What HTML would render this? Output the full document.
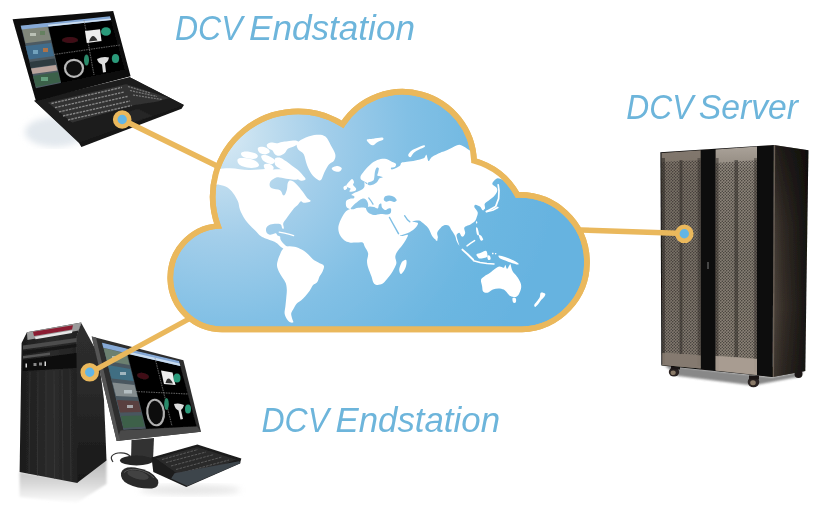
<!DOCTYPE html>
<html><head><meta charset="utf-8"><title>DCV</title>
<style>
html,body{margin:0;padding:0;background:#fff;}
body{width:825px;height:505px;overflow:hidden;font-family:"Liberation Sans",sans-serif;}
svg{display:block}
text{font-family:"Liberation Sans",sans-serif;font-style:italic;fill:#6db5db;}
</style></head><body>
<svg width="825" height="505" viewBox="0 0 825 505">
<defs>
<radialGradient id="cg" gradientUnits="userSpaceOnUse" cx="222" cy="135" r="340">
<stop offset="0" stop-color="#d9eaf5"/><stop offset="0.12" stop-color="#c2deef"/><stop offset="0.3" stop-color="#a3ceea"/><stop offset="0.55" stop-color="#82c0e5"/><stop offset="0.8" stop-color="#6db7e1"/><stop offset="1" stop-color="#66b3e0"/>
</radialGradient>
<clipPath id="cc"><path d="M218 226 A85 85 0 0 1 342.6 124.3 A71.5 71.5 0 0 1 474 160.8 A72 72 0 0 1 517.5 195 A66 66 0 0 1 522 329.4 L222 329.4 A51.78 51.78 0 0 1 218 226 Z"/></clipPath>
</defs>
<filter id="soft" x="0" y="0" width="100%" height="100%" filterUnits="userSpaceOnUse"><feGaussianBlur stdDeviation="0.55"/></filter>
<rect width="825" height="505" fill="#fff"/>
<g filter="url(#soft)">
<defs>
<filter id="b1" x="-10%" y="-10%" width="120%" height="120%"><feGaussianBlur stdDeviation="0.6"/></filter>
<filter id="b3" x="-10%" y="-30%" width="120%" height="160%"><feGaussianBlur stdDeviation="1.2"/></filter>
<filter id="b2" x="-20%" y="-20%" width="140%" height="140%"><feGaussianBlur stdDeviation="3"/></filter>
<linearGradient id="lapbase" x1="0" y1="0" x2="1" y2="1"><stop offset="0" stop-color="#2a2a2a"/><stop offset="1" stop-color="#0e0e0e"/></linearGradient>
<linearGradient id="srvL" x1="0" y1="0" x2="0" y2="1"><stop offset="0" stop-color="#81776d"/><stop offset="0.12" stop-color="#7a7168"/><stop offset="0.5" stop-color="#7a7269"/><stop offset="1" stop-color="#857c72"/></linearGradient>
<linearGradient id="srvR" x1="0" y1="0" x2="0" y2="1"><stop offset="0" stop-color="#aaa299"/><stop offset="0.1" stop-color="#8f877d"/><stop offset="0.5" stop-color="#857d73"/><stop offset="1" stop-color="#8f867b"/></linearGradient>
<linearGradient id="srvSv" x1="0" y1="0" x2="0" y2="1"><stop offset="0" stop-color="#0c0a09" stop-opacity="0.6"/><stop offset="0.35" stop-color="#0c0a09" stop-opacity="0.15"/><stop offset="0.7" stop-color="#0c0a09" stop-opacity="0"/><stop offset="1" stop-color="#0c0a09" stop-opacity="0.25"/></linearGradient>
<linearGradient id="srvS" x1="0" y1="0" x2="1" y2="0"><stop offset="0" stop-color="#4d443c"/><stop offset="0.3" stop-color="#352e28"/><stop offset="0.7" stop-color="#221e1a"/><stop offset="1" stop-color="#141210"/></linearGradient>
<pattern id="mesh" width="3" height="3" patternUnits="userSpaceOnUse"><circle cx="0.75" cy="0.75" r="0.72" fill="#2b2723" opacity="0.8"/><circle cx="2.25" cy="2.25" r="0.72" fill="#2b2723" opacity="0.8"/></pattern>
<linearGradient id="refl" x1="0" y1="0" x2="0" y2="1"><stop offset="0" stop-color="#b5b5b5"/><stop offset="0.5" stop-color="#d4d4d4"/><stop offset="1" stop-color="#fdfdfd"/></linearGradient>
<linearGradient id="twS" x1="0" y1="0" x2="0" y2="1"><stop offset="0" stop-color="#2e2e2e"/><stop offset="0.4" stop-color="#2a2a2a"/><stop offset="1" stop-color="#181818"/></linearGradient>
<linearGradient id="twF" x1="0" y1="0" x2="1" y2="0"><stop offset="0" stop-color="#1c1c1c"/><stop offset="0.5" stop-color="#2b2b2b"/><stop offset="1" stop-color="#222"/></linearGradient>
</defs>

<!-- LAPTOP -->
<g id="laptop" filter="url(#b1)">
<ellipse cx="55" cy="132" rx="30" ry="15" fill="#d3dce4" opacity="0.65" filter="url(#b2)"/>
<polygon points="34.2,100.8 129.8,77.3 183.9,104.9 181.6,108.8 81.4,147 79,143" fill="#141414"/>
<polygon points="34.2,100.8 129.8,77.3 183.9,104.9 79.5,142.5" fill="#1f1f1f"/>
<polygon points="48,102.6 126.3,84.2 168.9,98 157.4,101.5 134.4,104.9 72.2,122.6" fill="#333"/>
<g stroke="#9a9a9a" stroke-width="1.3" stroke-dasharray="2.4 1" opacity="0.85">
<line x1="51.5" y1="103.5" x2="122" y2="87.3"/>
<line x1="55" y1="107.6" x2="124" y2="92"/>
<line x1="59" y1="111.8" x2="127.5" y2="96.5"/>
<line x1="63" y1="116" x2="130" y2="101"/>
<line x1="68" y1="120" x2="131.5" y2="105.5"/>
</g>
<g stroke="#8a8a8a" stroke-width="1.2" stroke-dasharray="2 1" opacity="0.8">
<line x1="128" y1="86.5" x2="150" y2="93"/>
<line x1="130" y1="90.5" x2="157" y2="96.5"/>
<line x1="133" y1="95" x2="162" y2="99.5"/>
</g>
<polygon points="115,115.5 138,109 152,116 128,123.5" fill="#262626"/>
<polygon points="12.6,19.2 113.2,10.9 130.6,76.2 36,101.2" fill="#0d0d0d"/>
<polygon points="20.7,25.7 110,16.3 125.2,69.7 35.9,88.2" fill="#060606"/>
<!-- left panel -->
<polygon points="20.7,25.7 47.5,22.9 61,83 35.9,88.2" fill="#4d5a62"/>
<polygon points="22,29 47.5,26.2 51,40 25.5,43.2" fill="#80867a"/>
<polygon points="25.5,46 51,43 54,56 29,59.5" fill="#3f6c8c"/>
<polygon points="29.5,62 54.5,58.5 56,64.5 31,68" fill="#2e3a40"/>
<polygon points="31,68.5 56,65 57.5,70.5 32.5,74" fill="#b9a39c"/>
<polygon points="33,76 58,72 60.5,82 35.9,87" fill="#3a604a"/>
<g opacity="0.8"><rect x="30" y="33" width="6" height="3" fill="#c9cfc4"/><rect x="40" y="31" width="5" height="4" fill="#5f7f5a"/><rect x="33" y="50" width="5" height="4" fill="#7fb0c8"/><rect x="43" y="48" width="5" height="4" fill="#c9743a"/><rect x="41" y="77" width="7" height="4" fill="#6fae88"/></g>
<!-- title bar -->
<polygon points="20.7,25.7 110,16.3 111,20 21.7,29.4" fill="#86a9d6"/><polygon points="48,24.8 110.6,18.4 111,20 48.5,26.6" fill="#cfe0f0"/>
<!-- quadrant lines -->
<g stroke="#888" stroke-width="0.7" stroke-dasharray="1.5 1">
<line x1="84" y1="20" x2="94" y2="75"/>
<line x1="54" y1="54.5" x2="120" y2="45"/>
</g>
<ellipse cx="74" cy="68.3" rx="9" ry="8.5" fill="#111" stroke="#b8b8b8" stroke-width="2.2"/>
<polygon points="85,31 100,29.3 101.5,41 86.8,43" fill="#eee"/>
<path d="M89 41.5 Q92.5 31 97.5 40.5Z" fill="#333"/>
<ellipse cx="106" cy="31.5" rx="5" ry="4.3" fill="#2c9a7a"/>
<ellipse cx="86.5" cy="60" rx="2.5" ry="5.5" fill="#2c8a6a"/>
<ellipse cx="115.5" cy="58.5" rx="3.6" ry="4.5" fill="#2c9a7a"/>
<path d="M97 59 Q103 56 109 57.5 Q108 62 105 63.5 L106 72 L103 72.5 L102 64.5 Q98 63 97 59Z" fill="#ddd"/>
<ellipse cx="70" cy="40" rx="8" ry="3" fill="#5a1520" opacity="0.7"/>
</g>

<!-- SERVER -->
<g id="server" filter="url(#b1)">
<polygon points="664,365 772,377 804,371 798,377 753,385.5 678,376" fill="#7c7c7c" opacity="0.9" filter="url(#b3)"/>
<!-- under shadow -->
<polygon points="663,364 772.6,377 805,371 720,360" fill="#4a443e"/>
<!-- wheels -->
<ellipse cx="674" cy="372" rx="5.2" ry="4.6" fill="#2a2420"/><ellipse cx="673.2" cy="372.8" rx="2.6" ry="2.3" fill="#8a7a68"/><rect x="671" y="366" width="9" height="3.5" fill="#1d1916"/>
<ellipse cx="753.5" cy="382" rx="5.8" ry="5.2" fill="#2a2420"/><ellipse cx="753" cy="382.8" rx="2.8" ry="2.5" fill="#8a7a68"/><rect x="749" y="375.5" width="10" height="4" fill="#1d1916"/>
<ellipse cx="798.5" cy="374" rx="4" ry="4" fill="#1a1613"/>
<!-- side -->
<polygon points="773.8,145 808.4,150.3 805.3,371 772.6,377" fill="url(#srvS)"/>
<polygon points="773.8,145 808.4,150.3 805.3,371 772.6,377" fill="url(#srvSv)"/>
<polygon points="773.8,145 775.2,145.2 774,377 772.6,377" fill="#6a6057"/>
<!-- front -->
<polygon points="660.4,152.3 773.8,145 772.6,377 661.4,365.5" fill="#0b0a09"/>
<!-- left door -->
<polygon points="661.5,153 700.7,150.2 700.7,368.5 662.3,365" fill="url(#srvL)"/>
<polygon points="661.5,162 700.7,160 700.7,355 662.3,352.5" fill="url(#mesh)"/>
<!-- right door -->
<polygon points="715.6,149.5 757,146.5 757,375 715.6,370.5" fill="url(#srvR)"/>
<polygon points="715.6,163 757,160 757,358.5 715.6,355.5" fill="url(#mesh)"/>
<!-- vertical darker bands in doors -->
<rect x="679.5" y="160" width="3" height="194" fill="#2a2622" opacity="0.5"/>
<rect x="734.5" y="160" width="3.5" height="197" fill="#2a2622" opacity="0.5"/>
<rect x="661.5" y="158" width="3.5" height="206" fill="#2a2622" opacity="0.55"/>
<rect x="697.5" y="158" width="3.2" height="208" fill="#2a2622" opacity="0.4"/>
<rect x="715.6" y="158" width="3" height="212" fill="#2a2622" opacity="0.45"/>
<rect x="754" y="158" width="3" height="214" fill="#2a2622" opacity="0.4"/>
<!-- bottom reflection of doors -->
<polygon points="662.3,353 700.7,355.5 700.7,368.5 662.3,365" fill="#857a6f" opacity="0.9"/>
<polygon points="715.6,356 757,359 757,375 715.6,370.5" fill="#ab9f93" opacity="0.9"/>
<rect x="707" y="262" width="2" height="7" fill="#444"/>
</g>

<!-- DESKTOP -->
<g id="desktop" filter="url(#b1)">
<polygon points="19.6,472 76.5,481 106.5,459 106.5,484 76.5,503 19.6,497" fill="url(#refl)" filter="url(#b3)"/>
<ellipse cx="190" cy="490" rx="50" ry="5" fill="#d5d5d5" opacity="0.6" filter="url(#b2)"/>
<!-- tower side -->
<polygon points="81.3,323 97,352 101.5,380 104,400 105.7,440 106.5,460.5 77,483 76.9,335" fill="url(#twS)"/>
<!-- tower front -->
<polygon points="21.6,343 26.9,332.3 81.3,322.5 76.9,336 77.3,483 19.6,472" fill="url(#twF)"/>
<!-- handle -->
<polygon points="26.9,332.3 81.3,322.5 78.5,330.5 27.5,340" fill="#9b9b9b"/>
<polygon points="33,331.8 73,325.2 72,329.5 34,336" fill="#8b1f30"/>
<polygon points="35,336.8 72.5,330.3 72,333 35.5,339.3" fill="#e6e6e6"/>
<!-- drive bays -->
<polygon points="23,345.5 76.5,338 76.5,342 23,349.5" fill="#4d4d4d"/>
<polygon points="23,351 76.5,344 76.5,347 23,354.5" fill="#161616"/>
<polygon points="23,356 50,352.5 50,355 23,358.5" fill="#555"/>
<polygon points="22.5,360 76.5,353 76.5,368 22.5,371" fill="#0c0c0c"/>
<g fill="#ddd"><rect x="25.5" y="363.5" width="1.5" height="4"/><rect x="33.5" y="363" width="3" height="3" opacity="0.6"/><rect x="39" y="362.5" width="3" height="3" opacity="0.6"/><rect x="44.5" y="361.5" width="1.5" height="4.5"/></g>
<!-- mesh lines -->
<g stroke="#3a3a3a" stroke-width="0.8" opacity="0.9">
<line x1="30" y1="372" x2="29" y2="474"/><line x1="38" y1="371.5" x2="37.5" y2="475.5"/><line x1="46" y1="371" x2="46" y2="477"/><line x1="54" y1="370.5" x2="54.5" y2="478.5"/><line x1="62" y1="370" x2="63" y2="480"/><line x1="70" y1="369.5" x2="71" y2="481"/>
</g>
<!-- monitor stand -->
<polygon points="131.5,440 154,438 153,460 131,460" fill="#333"/>
<ellipse cx="136.5" cy="460.5" rx="16.5" ry="5" fill="#262626"/>
<!-- monitor -->
<polygon points="91.7,336.5 183.4,360.3 201,431.8 116.7,441" fill="#2e2e2e"/><polygon points="120.5,430.5 197,426.5 201,431.8 116.7,441" fill="#4a4a4a"/>
<polygon points="91.7,336.5 96,337.6 120,440.6 116.7,441" fill="#555"/>
<polygon points="102,342.7 179,361 196.6,426.3 123.3,430" fill="#050505"/>
<!-- monitor content -->
<polygon points="102,342.7 126,348.4 146,428.8 123.3,430" fill="#49565e"/>
<polygon points="103.5,348 126.5,353.5 129.5,365 107,361" fill="#6c8070"/>
<polygon points="108,365 130.5,369 133.5,381 111.5,378.5" fill="#3f6e82"/>
<polygon points="112.5,382.5 134.5,385 137.5,397 116,396" fill="#848c8e"/>
<polygon points="117,400 138.5,401 141,412 120,412.5" fill="#5a3f3f"/>
<polygon points="121,416 142,415.5 144.5,426.5 123.3,428" fill="#3d6048"/>
<g fill="#c9d4d8" opacity="0.7"><rect x="112" y="356" width="5" height="3"/><rect x="120" y="372" width="6" height="3"/><rect x="124" y="390" width="8" height="3.5"/><rect x="127" y="405" width="6" height="3"/></g>
<polygon points="102,342.7 179,361 180.3,366 103.3,347.7" fill="#86a9d6"/><polygon points="125,350.7 179.6,363.5 180.3,366 126,353.5" fill="#c9dcef"/>
<g stroke="#888" stroke-width="0.7" stroke-dasharray="1.5 1">
<line x1="155" y1="358" x2="172" y2="426"/>
<line x1="136" y1="391.5" x2="188" y2="394"/>
</g>
<ellipse cx="155.6" cy="412.5" rx="8.3" ry="12.8" fill="#0b0b0b" stroke="#b0b0b0" stroke-width="2.2" transform="rotate(-6 155.6 412.5)"/>
<polygon points="161,370.5 172.5,372.5 175.5,385 164,384" fill="#eee"/>
<path d="M165.5 383 Q168 374 173 383.5Z" fill="#333"/>
<ellipse cx="177" cy="378" rx="3.5" ry="4.5" fill="#2c9a7a"/>
<ellipse cx="166.5" cy="404" rx="2.3" ry="6" fill="#2c8a6a"/>
<ellipse cx="188" cy="409" rx="3" ry="4.5" fill="#2c9a7a"/>
<path d="M174 404 Q179 402.5 184 405 Q183 409 181 410 L183 419 L180.5 419.5 L178.5 410.5 Q175 409 174 404Z" fill="#ddd"/>
<ellipse cx="143" cy="376" rx="6" ry="3" fill="#5a1520" opacity="0.7" transform="rotate(12 143 376)"/>
<!-- keyboard -->
<polygon points="151.5,457.5 197.3,444.6 241.3,458.6 240,463.5 186.3,487 153.3,472" fill="#1b1b1b"/>
<polygon points="156,458.5 197,447 236,459.5 187,480.5" fill="#2b2b2b"/>
<g stroke="#6a6a6a" stroke-width="1" stroke-dasharray="2.6 1.1" opacity="0.75">
<line x1="162" y1="459.5" x2="198" y2="449.5"/><line x1="166" y1="462.5" x2="206" y2="452"/><line x1="171" y1="466" x2="214" y2="454.5"/><line x1="176" y1="469.5" x2="222" y2="457"/><line x1="181" y1="473" x2="229" y2="460"/><line x1="186" y1="476.5" x2="225" y2="465"/>
</g>
<polygon points="174.5,473.3 239,461.2 240.7,463.1 187.2,486 171.1,478.6" fill="#3d444b"/>
<!-- mouse -->
<path d="M113 462 Q108 455 118 453 Q127 452 131 457" fill="none" stroke="#333" stroke-width="1.2"/>
<path d="M121 473 Q123 466 135 467.5 Q152 470 158 480 Q160 487 152 488.5 Q138 489 128 484 Q120 480 121 473Z" fill="#2a2a2a"/><ellipse cx="138" cy="475" rx="11" ry="4" fill="#555" opacity="0.6" transform="rotate(14 138 475)"/>
<path d="M124 472.5 Q128 468.5 137 469.5 Q148 471.5 154 478" fill="none" stroke="#555" stroke-width="1"/>
</g>

<g stroke="#eab85c" stroke-width="5.4" stroke-linecap="round" fill="none">
<line x1="122" y1="119.5" x2="218" y2="166.5"/>
<line x1="581" y1="230" x2="684.5" y2="233.5"/>
<line x1="187" y1="320" x2="89.5" y2="373"/>
</g>
<path d="M218 226 A85 85 0 0 1 342.6 124.3 A71.5 71.5 0 0 1 474 160.8 A72 72 0 0 1 517.5 195 A66 66 0 0 1 522 329.4 L222 329.4 A51.78 51.78 0 0 1 218 226 Z" fill="url(#cg)" stroke="#eab85c" stroke-width="5.7" stroke-linejoin="miter"/>
<mask id="lm" maskUnits="userSpaceOnUse" x="150" y="70" width="460" height="280"><g fill="#fff"><path d="M212 169 C213.1 166.5 215.2 169.0 218.3 168.9 C221.4 168.8 225.7 168.0 230.8 168.2 C235.9 168.4 243.0 169.8 248.8 169.9 C254.6 170.1 261.5 169.2 265.4 169.1 C269.3 169.0 270.4 169.0 272.3 169.6 C274.2 170.2 274.9 171.5 276.5 172.4 C278.1 173.3 281.9 174.4 282 175.2 C282.1 176.0 278.8 176.1 277 177 C275.2 177.9 272.2 179.4 271 180.7 C269.8 182.0 269.5 183.7 269.6 184.9 C269.7 186.2 270.1 187.3 271.8 188.2 C273.6 189.1 278.2 189.0 280.1 190.2 C282.0 191.3 282.1 194.4 282.9 195.1 C283.7 195.8 284.3 195.4 285 194.4 C285.7 193.4 286.6 190.8 287 188.9 C287.4 187.1 287.2 184.7 287.7 183.3 C288.2 181.9 288.8 180.7 289.8 180.5 C290.9 180.3 292.6 181.0 294 181.9 C295.4 182.8 296.5 184.2 298.1 186.1 C299.7 187.9 302.2 191.0 303.7 193 C305.2 195.0 306.0 196.6 307.1 197.9 C308.2 199.2 310.2 199.9 310.6 200.6 C311.0 201.3 310.4 201.7 309.2 202 C308.0 202.3 305.1 202.8 303.7 202.7 C302.3 202.6 301.8 201.0 300.9 201.3 C300.0 201.6 299.2 203.2 298.1 204.4 C297.0 205.6 295.4 206.7 294 208.3 C292.6 209.9 291.2 211.9 289.8 213.8 C288.4 215.7 286.8 218.0 285.7 219.6 C284.6 221.2 283.5 222.1 283.2 223.5 C282.9 224.9 284.1 227.5 283.9 228.3 C283.7 229.1 282.7 228.9 282.2 228.3 C281.7 227.7 281.8 225.3 280.8 224.6 C279.8 223.8 277.7 223.8 276 223.8 C274.3 223.8 272.0 224.0 270.4 224.6 C268.8 225.2 267.2 226.4 266.5 227.6 C265.8 228.8 265.9 230.6 266.3 231.8 C266.7 233.0 267.9 234.2 269 234.6 C270.1 234.9 272.0 234.1 273.2 233.9 C274.4 233.7 275.3 232.9 276 233.2 C276.7 233.5 276.8 234.9 277.5 235.5 C278.2 236.1 279.5 235.8 280 236.5 C280.5 237.2 280.1 238.5 280.5 239.5 C280.9 240.5 281.7 241.5 282.5 242.5 C283.3 243.5 284.6 244.7 285.5 245.5 C286.4 246.3 287.9 246.8 288 247.5 C288.1 248.2 287.3 250.2 286 250 C284.7 249.8 281.8 247.6 280.3 246.5 C278.8 245.4 278.3 244.2 277 243.3 C275.7 242.4 274.5 241.8 272.7 241 C270.9 240.2 268.3 239.5 266.3 238.7 C264.3 237.9 262.6 237.4 260.7 236 C258.8 234.6 257.2 232.4 255.2 230.4 C253.2 228.4 250.8 226.3 248.9 224.2 C247.1 222.1 245.6 220.3 244.1 217.9 C242.6 215.5 240.9 212.4 239.9 209.6 C238.9 206.8 239.1 204.1 237.9 201.3 C236.8 198.5 234.7 195.3 233 193 C231.3 190.7 229.8 188.9 227.5 187.5 C225.2 186.1 221.8 185.3 219.2 184.7 C216.6 184.1 213.2 186.6 212 184 C210.8 181.4 210.9 171.5 212 169Z"/><path d="M267.0 170.5 C268.6 169.3 277.6 169.2 281.9 169.2 C286.2 169.2 289.4 169.4 292.7 170.3 C295.9 171.2 300.7 173.1 301.4 174.6 C302.1 176.1 299.3 178.9 297.1 179.6 C294.9 180.3 291.3 179.3 288.4 179.0 C285.5 178.7 282.4 177.9 279.7 177.5 C277.0 177.1 274.2 177.8 272.1 176.6 C270.0 175.4 265.4 171.7 267.0 170.5Z"/><path d="M297.1 143.1 C298.4 141.1 302.5 139.0 305.8 137.6 C309.1 136.2 313.4 135.0 316.7 134.8 C320.0 134.6 323.0 134.8 325.4 136.5 C327.8 138.2 329.2 142.3 330.8 145.2 C332.4 148.1 334.6 151.4 335.2 154.0 C335.8 156.6 335.2 158.7 334.1 160.5 C333.0 162.3 330.3 162.8 328.7 164.8 C327.1 166.8 325.6 169.9 324.3 172.5 C323.0 175.1 322.3 179.0 321.0 180.1 C319.7 181.2 318.3 180.1 316.7 179.0 C315.1 177.9 312.8 175.9 311.2 173.5 C309.6 171.1 308.2 168.1 306.9 164.8 C305.6 161.6 305.1 156.5 303.6 154.0 C302.2 151.5 299.3 151.4 298.2 149.6 C297.1 147.8 295.8 145.1 297.1 143.1Z"/><path d="M331.9 168.1 C332.4 167.3 335.8 165.9 337.4 165.9 C339.0 165.9 341.3 167.2 341.7 168.1 C342.1 169.0 340.8 170.9 339.5 171.4 C338.2 171.9 335.4 171.5 334.1 170.9 C332.8 170.3 331.3 168.9 331.9 168.1Z"/><path d="M237.7 159.2 C238.3 158.3 239.6 157.9 241.9 157.9 C244.2 157.9 248.9 158.4 251.6 159.2 C254.2 160.0 256.7 161.5 257.8 162.7 C258.9 163.9 259.5 165.3 258.5 166.2 C257.5 167.1 254.2 167.9 251.6 168.0 C249.0 168.1 245.4 167.4 243.2 166.6 C241.0 165.8 239.3 164.6 238.4 163.4 C237.5 162.2 237.1 160.1 237.7 159.2Z"/><path d="M241.2 153.0 C241.8 152.2 243.8 151.6 246.0 151.6 C248.2 151.6 252.3 152.3 254.3 153.0 C256.3 153.7 257.6 154.9 257.8 155.8 C258.0 156.7 257.2 158.1 255.7 158.6 C254.2 159.1 251.0 158.9 248.8 158.6 C246.6 158.2 243.9 157.4 242.6 156.5 C241.3 155.6 240.6 153.8 241.2 153.0Z"/><path d="M257.8 148.2 C258.2 147.2 260.9 146.7 262.6 146.8 C264.3 146.9 267.0 148.0 268.2 148.9 C269.4 149.8 270.1 151.4 269.6 152.3 C269.1 153.2 267.0 154.3 265.4 154.4 C263.8 154.5 261.2 154.0 259.9 153.0 C258.6 152.0 257.4 149.2 257.8 148.2Z"/><path d="M266.8 144.7 C267.3 143.8 269.4 142.8 271.0 142.6 C272.6 142.4 274.7 143.4 276.5 143.3 C278.3 143.2 280.1 142.2 282.0 141.9 C283.9 141.6 285.3 141.4 287.6 141.2 C289.9 141.0 294.0 140.2 295.9 140.5 C297.8 140.8 299.2 142.2 298.7 143.3 C298.2 144.4 295.0 145.9 293.1 146.8 C291.2 147.7 289.0 147.9 287.6 148.9 C286.2 149.9 286.2 151.8 284.8 153.0 C283.4 154.2 280.9 155.6 279.3 155.8 C277.7 156.0 276.3 155.3 275.1 154.4 C273.9 153.5 273.5 151.2 272.3 150.2 C271.1 149.2 269.1 149.1 268.2 148.2 C267.3 147.3 266.3 145.6 266.8 144.7Z"/><path d="M261.3 155.8 C261.8 155.0 263.8 154.9 265.4 155.1 C267.0 155.3 269.4 156.3 271.0 157.2 C272.6 158.1 274.9 159.4 275.1 160.6 C275.3 161.8 273.7 163.8 272.3 164.1 C270.9 164.4 268.4 163.4 266.8 162.7 C265.2 162.0 263.5 161.1 262.6 159.9 C261.7 158.8 260.8 156.6 261.3 155.8Z"/><path d="M275.1 158.6 C276.0 157.4 278.9 157.4 280.7 157.9 C282.5 158.4 284.4 160.0 286.2 161.3 C288.0 162.6 289.8 164.1 291.7 165.5 C293.6 166.9 295.4 168.0 297.3 169.6 C299.2 171.2 301.4 173.6 302.8 175.2 C304.2 176.8 305.8 178.4 305.6 179.3 C305.4 180.2 303.0 180.9 301.4 180.7 C299.8 180.5 297.7 178.8 295.9 177.9 C294.1 177.0 292.2 176.3 290.4 175.2 C288.5 174.0 286.6 172.2 284.8 171.0 C283.0 169.8 280.9 169.2 279.3 168.2 C277.7 167.2 275.8 166.4 275.1 164.8 C274.4 163.2 274.2 159.8 275.1 158.6Z"/><path d="M264.0 164.8 C264.7 163.9 268.0 163.6 269.6 164.1 C271.2 164.6 273.5 166.4 273.7 167.6 C273.9 168.8 272.4 170.7 271.0 171.0 C269.6 171.3 266.6 170.6 265.4 169.6 C264.2 168.6 263.3 165.7 264.0 164.8Z"/><path d="M281.8 250.5 C282.5 249.4 283.4 248.1 284.6 247.4 C285.8 246.7 287.4 246.4 289.0 246.3 C290.6 246.2 292.6 246.4 294.4 246.8 C296.2 247.2 298.3 248.0 299.9 248.7 C301.5 249.4 302.8 250.1 304.2 251.1 C305.6 252.1 307.2 253.5 308.6 254.8 C310.1 256.2 311.3 257.9 312.9 259.2 C314.5 260.5 316.6 261.4 318.4 262.5 C320.2 263.6 323.1 264.2 323.8 265.7 C324.5 267.1 323.4 269.4 322.7 271.2 C322.0 273.0 320.4 274.8 319.5 276.6 C318.6 278.4 318.4 280.7 317.3 282.1 C316.2 283.6 314.2 283.9 312.9 285.3 C311.6 286.8 311.0 289.0 309.7 290.8 C308.4 292.6 306.8 294.6 305.3 296.2 C303.9 297.8 302.4 299.3 301.0 300.6 C299.6 301.9 297.9 302.4 296.6 303.8 C295.3 305.2 294.2 307.7 293.3 309.3 C292.4 310.9 291.4 312.0 291.2 313.6 C291.0 315.2 291.9 317.7 292.3 319.1 C292.7 320.6 293.7 321.8 293.3 322.3 C292.9 322.8 291.2 322.8 290.1 322.3 C289.0 321.8 287.7 320.6 286.8 319.1 C285.9 317.7 284.9 315.6 284.6 313.6 C284.4 311.6 285.0 309.6 285.3 307.1 C285.6 304.6 285.9 301.3 286.2 298.4 C286.4 295.5 286.9 292.2 286.8 289.7 C286.7 287.1 286.4 285.1 285.7 283.1 C285.0 281.1 283.6 279.5 282.5 277.7 C281.4 275.9 280.1 274.3 279.2 272.3 C278.3 270.3 277.2 267.9 277.0 265.7 C276.8 263.5 277.6 261.2 278.1 259.2 C278.7 257.2 279.7 255.1 280.3 253.7 C280.9 252.2 281.1 251.6 281.8 250.5Z"/><path d="M346.3 210.9 C347.8 209.8 349.8 209.1 351.8 208.7 C353.8 208.3 356.0 208.5 358.3 208.7 C360.6 208.9 363.9 209.1 365.9 209.8 C367.9 210.5 368.7 212.4 370.3 213.1 C371.9 213.8 373.5 214.2 375.7 214.2 C377.9 214.2 380.9 213.1 383.3 213.1 C385.7 213.1 388.5 213.3 389.9 214.2 C391.2 215.1 390.6 216.5 391.4 218.5 C392.2 220.5 393.4 223.6 394.7 226.1 C396.0 228.6 397.9 232.0 399.0 233.7 C400.1 235.4 399.8 235.9 401.2 236.1 C402.6 236.3 406.9 234.3 407.7 234.8 C408.5 235.3 407.2 237.4 406.2 239.2 C405.2 241.0 403.3 243.7 401.9 245.7 C400.4 247.7 398.6 249.4 397.5 251.2 C396.4 253.0 395.5 254.6 395.3 256.6 C395.1 258.6 396.6 261.1 396.4 263.1 C396.2 265.1 395.1 266.8 394.2 268.6 C393.3 270.4 392.3 272.2 391.0 274.0 C389.7 275.8 388.1 277.9 386.6 279.5 C385.2 281.1 383.9 282.9 382.3 283.8 C380.7 284.7 378.3 285.1 376.8 284.9 C375.3 284.7 374.4 284.1 373.5 282.7 C372.6 281.2 372.3 278.7 371.4 276.2 C370.5 273.7 368.8 270.0 368.1 267.5 C367.4 265.0 367.0 263.4 367.0 261.0 C367.0 258.6 368.5 255.7 368.1 253.3 C367.7 250.9 365.7 248.6 364.8 246.8 C363.9 245.0 364.1 243.2 362.7 242.5 C361.2 241.8 358.3 242.5 356.1 242.5 C353.9 242.5 351.6 242.9 349.6 242.5 C347.6 242.1 345.8 241.6 344.2 240.3 C342.6 239.0 340.8 236.8 339.8 234.8 C338.8 232.8 338.3 230.5 338.3 228.3 C338.3 226.1 339.0 224.0 339.8 221.8 C340.6 219.6 342.0 217.0 343.1 215.2 C344.2 213.4 344.9 212.0 346.3 210.9Z"/><path d="M402.9 261.0 C403.8 260.3 405.6 259.2 406.2 259.9 C406.8 260.6 406.6 263.5 406.2 265.3 C405.8 267.1 404.9 269.4 404.0 270.8 C403.1 272.2 401.6 274.2 400.8 274.0 C400.0 273.8 399.2 271.3 399.2 269.7 C399.2 268.1 400.2 265.6 400.8 264.2 C401.4 262.8 402.0 261.7 402.9 261.0Z"/><path d="M346.4 206.8 C345.7 205.5 345.7 202.6 346.1 201.3 C346.5 200.0 347.8 199.5 348.9 199.2 C350.0 198.8 352.1 199.7 353.0 199.2 C353.9 198.7 354.7 197.1 354.4 196.4 C354.1 195.7 351.4 195.5 351.3 195.0 C351.2 194.5 352.6 193.8 353.7 193.2 C354.8 192.6 356.5 192.2 357.9 191.6 C359.3 191.0 360.9 190.3 362.0 189.5 C363.1 188.7 364.0 187.9 364.4 186.7 C364.8 185.5 364.2 182.6 364.5 182.1 C364.8 181.6 365.8 183.8 366.2 183.9 C366.6 184.1 367.9 183.7 367.1 183.0 C366.3 182.3 362.4 180.9 361.3 179.8 C360.2 178.7 360.4 177.5 360.6 176.3 C360.8 175.2 361.4 174.5 362.7 172.9 C364.0 171.3 366.3 168.4 368.2 166.6 C370.1 164.8 371.7 163.1 373.8 161.8 C375.9 160.5 378.6 159.5 380.7 159.0 C382.8 158.5 384.4 158.5 386.3 159.0 C388.2 159.5 390.2 161.0 391.8 161.8 C393.4 162.6 395.5 163.1 396.0 163.9 C396.5 164.8 395.6 166.3 394.8 166.9 C394.0 167.5 391.6 167.3 391.1 167.7 C390.6 168.1 391.0 169.3 391.8 169.4 C392.6 169.5 394.6 168.7 396.0 168.0 C397.4 167.3 399.2 166.4 400.1 165.5 C401.0 164.6 400.4 163.3 401.5 162.7 C402.6 162.1 404.7 162.2 407.0 161.8 C409.3 161.4 412.6 161.0 415.4 160.4 C418.2 159.8 421.9 159.2 423.7 158.3 C425.5 157.4 425.6 154.3 426.4 154.8 C427.2 155.3 427.6 160.8 428.5 161.1 C429.4 161.4 430.0 158.3 432.0 156.9 C434.0 155.5 438.1 153.8 440.3 152.8 C442.5 151.8 443.3 151.8 445.0 151.1 C446.7 150.4 448.1 149.6 450.5 148.5 C452.9 147.4 456.5 144.8 459.2 144.8 C461.9 144.8 464.7 147.3 466.8 148.5 C468.9 149.7 470.2 151.2 471.8 151.8 C473.4 152.4 470.7 147.1 476.6 151.8 C482.5 156.5 503.6 175.7 507.1 180.1 C510.6 184.5 500.2 177.7 497.7 178.3 C495.2 178.9 492.5 182.2 492.3 183.8 C492.1 185.4 495.8 186.4 496.6 187.7 C497.4 189.0 497.6 190.1 497.1 191.6 C496.6 193.1 495.2 195.1 493.8 196.6 C492.4 198.1 490.3 199.3 488.8 200.5 C487.3 201.7 485.7 202.1 484.9 203.6 C484.1 205.1 484.2 208.6 483.8 209.7 C483.4 210.8 483.0 210.4 482.3 209.9 C481.6 209.4 481.0 207.5 479.9 206.6 C478.8 205.7 476.4 204.6 475.5 204.7 C474.6 204.8 474.0 206.0 474.4 207.3 C474.8 208.6 477.3 210.6 477.7 212.3 C478.1 214.0 477.1 215.9 476.6 217.5 C476.1 219.1 475.6 220.4 474.6 221.6 C473.6 222.8 471.7 223.7 470.4 224.4 C469.1 225.1 468.0 225.2 467.0 225.8 C466.0 226.4 464.5 226.8 464.2 227.9 C463.9 229.1 465.3 231.3 465.2 232.7 C465.1 234.1 464.1 235.6 463.5 236.2 C462.9 236.8 462.1 236.8 461.4 236.2 C460.7 235.6 460.1 232.9 459.3 232.7 C458.5 232.5 456.9 233.8 456.6 234.8 C456.3 235.8 456.9 237.2 457.3 238.9 C457.8 240.6 459.1 244.2 459.3 245.2 C459.5 246.2 459.1 245.5 458.6 244.8 C458.2 244.1 457.2 242.4 456.6 241.0 C456.0 239.6 456.0 237.9 455.2 236.2 C454.4 234.5 452.8 232.3 451.7 230.6 C450.6 228.9 450.0 226.7 448.9 225.8 C447.8 224.9 446.2 224.8 444.8 225.1 C443.4 225.4 441.9 226.6 440.6 227.9 C439.3 229.2 437.6 231.1 437.2 232.7 C436.8 234.3 438.1 236.4 437.9 237.6 C437.7 238.8 436.7 239.8 435.8 239.6 C434.9 239.4 433.6 238.1 432.3 236.2 C431.0 234.2 429.9 230.2 428.2 227.9 C426.5 225.6 423.4 223.5 421.9 222.3 C420.4 221.1 420.6 220.8 419.0 220.6 C417.4 220.4 413.1 221.2 412.3 221.4 C411.6 221.6 413.5 221.7 414.5 222.0 C415.5 222.3 418.1 222.3 418.1 223.4 C418.1 224.5 416.2 227.2 414.5 228.8 C412.8 230.4 410.2 232.0 407.8 233.1 C405.4 234.2 401.4 235.5 399.8 235.5 C398.2 235.5 399.3 234.8 398.2 233.0 C397.1 231.2 394.5 226.8 393.1 224.5 C391.7 222.2 391.0 220.0 389.7 218.9 C388.4 217.8 389.7 218.6 385.2 217.7 C380.7 216.8 368.4 214.6 362.6 213.2 C356.8 211.8 352.9 210.4 350.2 209.3 C347.5 208.2 347.1 208.1 346.4 206.8Z"/><path d="M350.2 198.6 L391.9 198.6 L391.9 217.7 L350.2 217.7Z"/><path d="M346.1 186.2 C345.9 185.1 348.0 183.0 349.0 181.8 C350.0 180.6 351.4 178.9 352.2 179.0 C353.0 179.1 353.9 181.3 354.0 182.3 C354.1 183.3 352.8 183.9 353.1 184.9 C353.5 185.9 355.8 187.4 356.1 188.4 C356.4 189.4 355.9 190.5 354.8 191.0 C353.7 191.5 350.1 192.0 349.4 191.6 C348.7 191.2 351.1 189.3 350.5 188.4 C349.9 187.5 346.4 187.3 346.1 186.2Z"/><path d="M343.5 187.0 C343.8 186.3 345.5 185.3 346.1 185.5 C346.7 185.7 347.3 187.7 347.0 188.4 C346.7 189.1 345.0 190.1 344.4 189.9 C343.8 189.7 343.2 187.7 343.5 187.0Z"/><path d="M366.8 139.8 C367.3 138.9 370.8 139.1 373.3 138.7 C375.9 138.3 380.5 137.4 382.1 137.6 C383.7 137.8 383.8 139.1 383.1 139.8 C382.4 140.5 379.3 141.1 377.7 142.0 C376.1 142.9 374.6 144.8 373.3 145.2 C372.0 145.6 371.2 145.1 370.1 144.2 C369.0 143.3 366.3 140.7 366.8 139.8Z"/><path d="M408.2 155.0 C408.4 153.9 409.8 152.0 411.4 150.7 C413.0 149.4 415.9 148.3 418.0 147.4 C420.1 146.5 423.0 145.3 424.1 145.2 C425.2 145.1 425.3 146.3 424.5 147.0 C423.7 147.7 420.9 148.6 419.1 149.6 C417.3 150.6 415.1 151.6 413.6 152.9 C412.2 154.2 411.3 156.8 410.4 157.2 C409.5 157.5 408.0 156.1 408.2 155.0Z"/><path d="M476.0 227.9 C476.1 226.9 477.1 227.2 477.6 228.3 C478.1 229.5 479.1 233.8 479.0 234.8 C478.9 235.8 477.6 235.6 477.1 234.4 C476.6 233.2 475.9 228.9 476.0 227.9Z"/><path d="M479.0 234.8 C479.3 234.4 480.5 235.0 481.2 235.8 C481.9 236.6 483.2 238.8 483.2 239.6 C483.2 240.4 481.8 240.9 481.2 240.7 C480.6 240.5 480.0 239.2 479.6 238.2 C479.2 237.2 478.7 235.2 479.0 234.8Z"/><path d="M476.1 221.3 C476.3 221.1 477.2 221.5 477.3 221.9 C477.4 222.3 477.1 223.4 476.9 223.6 C476.7 223.8 476.1 223.4 476.0 223.0 C475.9 222.6 475.9 221.5 476.1 221.3Z"/><path d="M476.6 254.2 C477.2 253.6 479.3 253.4 480.8 252.8 C482.3 252.2 484.6 250.6 485.7 250.7 C486.8 250.8 487.1 252.4 487.3 253.5 C487.5 254.6 487.5 256.3 486.8 257.1 C486.1 257.9 484.1 258.0 482.9 258.2 C481.7 258.4 480.3 258.8 479.4 258.5 C478.5 258.2 477.8 257.2 477.3 256.5 C476.8 255.8 476.0 254.8 476.6 254.2Z"/><path d="M487.3 255.7 C487.6 255.0 489.2 255.1 489.8 255.7 C490.4 256.3 490.9 258.6 490.6 259.3 C490.3 260.0 488.7 260.3 488.1 259.7 C487.6 259.1 487.0 256.4 487.3 255.7Z"/><path d="M492.2 252.8 C492.4 252.6 493.2 252.6 493.4 252.8 C493.6 253.0 493.6 254.0 493.4 254.2 C493.2 254.4 492.4 254.4 492.2 254.2 C492.0 254.0 492.0 253.0 492.2 252.8Z"/><path d="M495.1 253.1 C495.3 252.9 496.0 252.9 496.2 253.1 C496.4 253.3 496.4 254.1 496.2 254.3 C496.0 254.5 495.3 254.5 495.1 254.3 C494.9 254.1 494.9 253.3 495.1 253.1Z"/><path d="M498.8 255.6 C499.7 255.4 502.9 256.3 505.1 257.0 C507.3 257.7 509.8 258.7 512.0 259.7 C514.2 260.7 517.3 262.4 518.2 263.2 C519.1 264.0 518.8 264.7 517.5 264.6 C516.2 264.5 512.9 263.3 510.6 262.5 C508.3 261.7 505.6 260.8 503.7 260.0 C501.8 259.2 500.3 258.6 499.5 257.9 C498.7 257.2 497.9 255.8 498.8 255.6Z"/><path d="M481.8 205.3 C482.0 204.6 483.8 204.5 484.3 205.0 C484.8 205.5 485.2 207.8 485.0 208.5 C484.8 209.2 483.7 209.7 483.2 209.2 C482.7 208.7 481.6 206.0 481.8 205.3Z"/><path d="M481.0 279.7 C481.4 278.1 482.8 277.5 484.2 276.4 C485.6 275.3 487.9 274.4 489.7 273.1 C491.5 271.8 493.5 269.9 495.1 268.8 C496.7 267.7 498.1 266.8 499.5 266.6 C500.9 266.4 502.8 268.0 503.8 267.7 C504.8 267.4 504.8 264.7 505.3 264.9 C505.9 265.1 506.4 268.7 507.1 268.8 C507.8 268.9 508.7 266.2 509.3 265.5 C509.9 264.8 510.1 263.5 510.6 264.4 C511.1 265.3 511.4 269.0 512.5 271.0 C513.5 273.0 515.6 274.6 516.9 276.4 C518.2 278.2 519.5 280.1 520.2 281.9 C520.9 283.7 521.4 285.3 521.2 287.3 C521.0 289.3 520.0 292.2 519.1 293.8 C518.2 295.4 517.2 296.7 515.8 297.1 C514.3 297.5 511.8 296.7 510.4 296.0 C508.9 295.3 508.2 293.8 507.1 292.7 C506.0 291.6 505.2 290.2 503.8 289.5 C502.4 288.8 500.2 288.4 498.4 288.4 C496.6 288.4 494.7 288.8 492.9 289.5 C491.1 290.2 489.1 292.3 487.5 292.7 C485.9 293.1 484.0 292.7 483.1 291.6 C482.2 290.5 482.5 288.2 482.1 286.2 C481.8 284.2 480.6 281.3 481.0 279.7Z"/><path d="M512.5 298.2 C512.9 297.5 515.2 297.7 515.8 298.4 C516.3 299.1 516.2 301.6 515.8 302.3 C515.4 303.0 513.8 303.2 513.2 302.5 C512.7 301.8 512.1 298.9 512.5 298.2Z"/><path d="M540.8 292.7 C541.7 292.1 544.7 293.1 545.2 293.8 C545.8 294.5 544.8 296.0 544.1 297.1 C543.4 298.2 541.7 299.3 540.8 300.4 C539.9 301.5 539.6 302.5 538.7 303.6 C537.8 304.7 536.1 306.7 535.4 306.9 C534.7 307.1 533.9 305.8 534.3 304.7 C534.7 303.6 536.7 301.7 537.6 300.4 C538.5 299.1 539.3 298.4 539.8 297.1 C540.3 295.8 539.9 293.2 540.8 292.7Z"/><path d="M435.8 238.2 C436.0 237.8 436.9 237.8 437.2 238.2 C437.5 238.6 437.6 240.1 437.4 240.5 C437.2 240.9 436.2 240.9 435.9 240.5 C435.6 240.1 435.6 238.6 435.8 238.2Z"/></g><g fill="none" stroke="#fff" stroke-linecap="round" stroke-linejoin="round"><path d="M498.2 184.9 L499.0 190.7 L498.6 198.6 L495.6 206.6 L486.6 211.4" stroke-width="1.7"/><path d="M467.0 245.9 L470.7 243.1 L474.6 240.6" stroke-width="1.5"/><path d="M462.4 249.6 L467.6 254.3 L473.2 259.7" stroke-width="1.9"/><path d="M473.5 260.7 L480.1 262.4 L487.0 263.5 L494.0 263.9" stroke-width="1.5"/><path d="M486.3 211.6 L492.6 210.3 L497.8 207.5" stroke-width="1.6"/><path d="M279.2 232.2 L284.6 233.1 L289.6 234.4 L293.6 235.7" stroke-width="1.3"/></g><g fill="#000"><path d="M350.7 208.5 C351.0 207.6 353.7 205.0 355.2 203.6 C356.7 202.2 358.4 200.7 359.8 199.9 C361.2 199.1 362.7 198.4 363.9 198.6 C365.1 198.8 366.2 199.8 366.9 200.8 C367.6 201.8 368.2 203.6 368.2 204.8 C368.2 206.0 368.0 207.6 367.1 208.1 C366.2 208.6 364.3 207.6 362.6 207.6 C360.9 207.6 358.4 207.8 356.9 208.1 C355.4 208.4 354.6 209.2 353.6 209.3 C352.6 209.4 350.4 209.4 350.7 208.5Z"/><path d="M366.2 207.6 C366.7 207.0 368.3 206.6 369.6 206.5 C370.9 206.4 372.5 206.7 373.9 207.0 C375.3 207.3 376.9 208.9 377.8 208.5 C378.7 208.1 378.4 205.6 379.0 204.8 C379.6 204.0 380.7 203.1 381.2 203.6 C381.7 204.1 381.3 206.5 382.0 207.6 C382.7 208.7 384.1 209.9 385.2 210.1 C386.3 210.2 387.6 208.7 388.6 208.5 C389.6 208.3 390.7 208.2 391.0 208.9 C391.3 209.7 391.2 212.1 390.6 213.0 C390.0 213.9 389.0 214.2 387.4 214.4 C385.8 214.6 382.9 213.8 380.7 213.9 C378.4 214.0 375.9 215.1 373.9 214.9 C371.9 214.7 369.7 213.5 368.5 212.7 C367.3 211.9 366.9 210.9 366.5 210.1 C366.1 209.2 365.7 208.2 366.2 207.6Z"/><path d="M383.8 199.7 C383.6 198.8 384.2 197.0 385.2 196.3 C386.2 195.6 388.2 195.3 389.7 195.4 C391.2 195.5 393.0 196.1 394.2 196.9 C395.4 197.7 396.7 199.4 396.7 200.2 C396.7 201.0 395.4 201.8 394.2 201.9 C393.0 202.0 391.0 200.8 389.7 200.8 C388.4 200.8 387.3 201.9 386.3 201.7 C385.3 201.5 384.0 200.6 383.8 199.7Z"/><path d="M376.6 167.7 C377.2 167.3 378.5 167.6 378.8 168.3 C379.1 169.1 378.4 171.0 378.2 172.2 C377.9 173.4 377.0 174.9 377.3 175.6 C377.6 176.3 379.1 176.0 380.0 176.3 C380.9 176.6 382.9 176.9 382.8 177.2 C382.7 177.5 380.4 177.8 379.6 178.3 C378.8 178.8 378.7 179.5 378.2 180.2 C377.7 180.9 377.4 181.9 376.6 182.6 C375.8 183.3 374.6 184.0 373.5 184.4 C372.4 184.8 370.9 185.2 369.9 185.2 C368.9 185.2 368.0 184.8 367.7 184.4 C367.4 184.0 367.6 183.1 368.2 182.6 C368.8 182.1 370.4 182.1 371.3 181.6 C372.2 181.1 373.3 180.8 373.8 179.8 C374.3 178.8 374.3 177.1 374.5 175.6 C374.7 174.1 374.8 172.1 375.2 170.8 C375.6 169.5 376.0 168.1 376.6 167.7Z"/></g><g fill="none" stroke="#000" stroke-linecap="round"><path d="M389.5 217.5 L393.1 224.0 L398.5 233.6" stroke-width="1.5"/><path d="M404.6 215.7 L407.5 219.8 L409.8 221.8" stroke-width="1.4"/><path d="M368.7 197.9 L371.1 201.0 L373.0 204.2" stroke-width="1.3"/></g></mask>
<g clip-path="url(#cc)"><rect x="150" y="70" width="460" height="280" fill="#fff" mask="url(#lm)"/></g>
<path d="M218 226 A85 85 0 0 1 342.6 124.3 A71.5 71.5 0 0 1 474 160.8 A72 72 0 0 1 517.5 195 A66 66 0 0 1 522 329.4 L222 329.4 A51.78 51.78 0 0 1 218 226 Z" fill="none" stroke="#eab85c" stroke-width="5.7" stroke-linejoin="miter"/>
<g fill="#62b5e5" stroke="#eab85c" stroke-width="4.6">
<circle cx="122.2" cy="119.5" r="7"/><circle cx="684.3" cy="233.8" r="7"/><circle cx="89.7" cy="372.3" r="7"/>
</g>
<g>
<text x="175" y="40" font-size="34.5" textLength="67.5" lengthAdjust="spacingAndGlyphs">DCV</text>
<text x="249" y="40" font-size="34.5" textLength="166" lengthAdjust="spacingAndGlyphs">Endstation</text>
<text x="626.3" y="118.6" font-size="35.5" textLength="67" lengthAdjust="spacingAndGlyphs">DCV</text>
<text x="698.8" y="118.6" font-size="35.5" textLength="99.3" lengthAdjust="spacingAndGlyphs">Server</text>
<text x="261.5" y="431.8" font-size="35" textLength="67.5" lengthAdjust="spacingAndGlyphs">DCV</text>
<text x="335.5" y="431.8" font-size="35" textLength="164.5" lengthAdjust="spacingAndGlyphs">Endstation</text>
</g>
</g>
</svg>
</body></html>
